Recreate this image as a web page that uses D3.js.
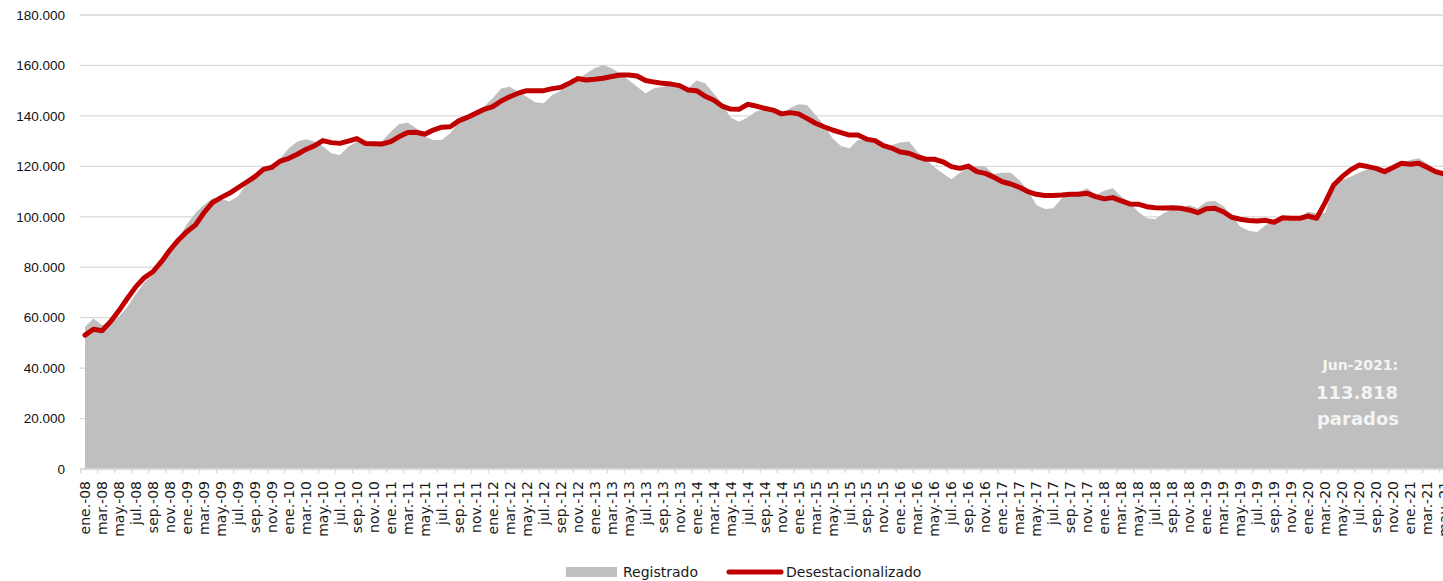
<!DOCTYPE html>
<meta charset="utf-8">
<style>
body { margin: 0; background: #fff; }
svg { display: block; font-family: "DejaVu Sans", sans-serif; }
.grid line { stroke: #d9d9d9; stroke-width: 1.3; }
.yaxis text { font-size: 13.5px; fill: #111; }
.xlab { font-size: 14px; fill: #1a1a1a; }
.legend text { font-size: 14px; fill: #1a1a1a; }
.note { font-weight: bold; fill: #f4f4f4; }
</style>
<svg width="1443" height="581"></svg>
<script src="https://cdn.jsdelivr.net/npm/d3@7"></script>
<script>

// month labels ene.-08 ... jun.-21
var monthNames = ["ene.", "feb.", "mar.", "abr.", "may.", "jun.", "jul.", "ago.", "sep.", "oct.", "nov.", "dic."];
var years = ["08", "09", "10", "11", "12", "13", "14", "15", "16", "17", "18", "19", "20", "21"];
var categories = [];
years.forEach(function(yy) {
  monthNames.forEach(function(m, k) {
    if (yy == "21" && k > 5) return;
    categories.push(m + "-" + yy);
  });
});

// Registrado (parados)
var registrado = [
  56400, 59700, 57100, 58000, 60500, 64300, 69500, 74000, 77000, 81000, 86500, 91500,
  97000, 101500, 104700, 107300, 107000, 106200, 108000, 113000, 116600, 119900, 120500, 123200,
  127200, 129800, 130700, 129800, 128000, 125200, 124500, 127800, 129800, 129500, 129000, 130000,
  133700, 136800, 137300, 135100, 131800, 130400, 130400, 133100, 137700, 140000, 141700, 143700,
  147000, 150900, 151600, 149600, 147600, 145400, 145000, 148300, 150000, 152300, 154200, 156800,
  158900, 160200, 158900, 156800, 154200, 151600, 149000, 151000, 151600, 152300, 152300, 151000,
  154000, 152900, 149000, 145000, 139400, 137700, 139400, 141700, 142500, 141600, 140600, 143000,
  144600, 144300, 140400, 136400, 131100, 128100, 127200, 130400, 130400, 129800, 128100, 128500,
  129400, 129800, 125800, 122800, 119600, 117200, 114900, 117500, 119900, 120100, 119800, 117000,
  117500, 117500, 114500, 110600, 104700, 103100, 103400, 107300, 109000, 110000, 111300, 108600,
  110300, 111300, 108000, 105600, 102000, 99400, 99000, 101400, 103000, 103400, 104700, 103400,
  106000, 106400, 104300, 100700, 96100, 94500, 94000, 96700, 98000, 98700, 99000, 99800,
  102000, 101400, 101500, 112200, 114600, 115900, 117500, 118800, 118800, 118300, 119600, 121200,
  122500, 123200, 121200, 118600, 116800, 113818
];

// Desestacionalizado
var desestacionalizado = [
  53100, 55400, 54800, 58400, 62800, 67700, 72300, 75900, 78200, 82200, 86800, 90800,
  94100, 96700, 101600, 105600, 107600, 109300, 111500, 113700, 115900, 118800, 119600, 122100,
  123200, 124800, 126700, 128100, 130200, 129400, 129100, 130000, 131000, 129100, 129000, 128900,
  129800, 131800, 133400, 133500, 132700, 134400, 135500, 135700, 138000, 139400, 141000, 142600,
  143700, 145900, 147600, 149000, 150000, 150000, 150000, 150800, 151300, 152900, 154800, 154200,
  154500, 154900, 155600, 156200, 156200, 155800, 154000, 153400, 152900, 152600, 152000, 150300,
  150000, 147800, 146300, 143900, 142700, 142600, 144600, 143900, 143000, 142300, 140800, 141300,
  140800, 139000, 137100, 135700, 134400, 133400, 132400, 132400, 130800, 130200, 128200, 127200,
  125700, 125200, 123800, 122800, 122800, 121800, 119900, 119200, 120100, 117900, 117200, 115700,
  113900, 113000, 111700, 110000, 108900, 108400, 108400, 108600, 108900, 108900, 109300, 108000,
  107100, 107600, 106300, 105100, 105000, 104000, 103600, 103500, 103600, 103400, 102700, 101600,
  103200, 103400, 102000, 99800, 99000, 98500, 98300, 98600, 97800, 99600, 99400, 99400,
  100300, 99400, 105600, 112600, 115900, 118600, 120500, 119900, 119200, 117900, 119500, 121200,
  120800, 121200, 119600, 117900, 117000, 116200
];

var yTicks = [0, 20000, 40000, 60000, 80000, 100000, 120000, 140000, 160000, 180000];
var noteLines = ["Jun-2021:", "113.818", "parados"];
var legendItems = ["Registrado", "Desestacionalizado"];

var svg = d3.select("svg"),
    width = +svg.attr("width"),
    height = +svg.attr("height");

var es = d3.formatLocale({decimal: ",", thousands: ".", grouping: [3], currency: ["", " €"]});
var fmt = es.format(",");

var left = 80.75, step = 8.494;
var x = d3.scaleBand()
    .domain(categories)
    .range([left, left + categories.length * step])
    .padding(0);
var cx = function(d) { return x(d) + x.bandwidth() / 2; };

var y = d3.scaleLinear()
    .domain([0, 180000])
    .range([469, 15]);

// gridlines
svg.append("g")
    .attr("class", "grid")
  .selectAll("line")
    .data(yTicks)
  .enter().append("line")
    .attr("x1", 80)
    .attr("x2", width)
    .attr("y1", function(d) { return y(d); })
    .attr("y2", function(d) { return y(d); });

// y axis labels
svg.append("g")
    .attr("class", "yaxis")
    .attr("transform", "translate(80,0)")
    .call(d3.axisLeft(y).tickValues(yTicks).tickSize(0).tickPadding(15).tickFormat(fmt))
  .call(function(g) { g.select(".domain").remove(); });

// area (registrado)
var area = d3.area()
    .x(function(d, i) { return cx(categories[i]); })
    .y0(y(0))
    .y1(function(d) { return y(d); });

svg.append("path")
    .datum(registrado)
    .attr("fill", "#bfbfbf")
    .attr("d", area);

// axis line + ticks every 2 months
var evenCats = categories.filter(function(d, i) { return i % 2 == 0; });
svg.append("line")
    .attr("x1", 80).attr("x2", width)
    .attr("y1", y(0)).attr("y2", y(0))
    .attr("stroke", "#d9d9d9")
    .attr("stroke-width", 1.3);

svg.append("g")
  .selectAll("line")
    .data(evenCats)
  .enter().append("line")
    .attr("x1", function(d) { return x(d); })
    .attr("x2", function(d) { return x(d); })
    .attr("y1", y(0))
    .attr("y2", y(0) + 4)
    .attr("stroke", "#d9d9d9")
    .attr("stroke-width", 1.3);

svg.append("g")
  .selectAll("text")
    .data(evenCats)
  .enter().append("text")
    .attr("class", "xlab")
    .attr("transform", function(d) { return "translate(" + cx(d) + ",481) rotate(-90)"; })
    .attr("dy", "0.36em")
    .attr("text-anchor", "end")
    .text(function(d) { return d; });

// red line (desestacionalizado)
var line = d3.line()
    .x(function(d, i) { return cx(categories[i]); })
    .y(function(d) { return y(d); });

svg.append("path")
    .datum(desestacionalizado)
    .attr("fill", "none")
    .attr("stroke", "#c00000")
    .attr("stroke-width", 5)
    .attr("stroke-linejoin", "round")
    .attr("stroke-linecap", "round")
    .attr("d", line);

// annotation
var note = svg.append("g").attr("text-anchor", "end");
note.append("text").attr("class", "note").attr("x", 1398).attr("y", 370)
    .style("font-size", "14px").text(noteLines[0]);
note.append("text").attr("class", "note").attr("x", 1398).attr("y", 399)
    .style("font-size", "18px").text(noteLines[1]);
note.append("text").attr("class", "note").attr("x", 1399).attr("y", 425)
    .style("font-size", "18px").text(noteLines[2]);

// legend
var lg = svg.append("g").attr("class", "legend");
lg.append("rect")
    .attr("x", 566).attr("y", 567)
    .attr("width", 51).attr("height", 10)
    .attr("fill", "#bfbfbf");
lg.append("text").attr("x", 623).attr("y", 577).text(legendItems[0]);
lg.append("line")
    .attr("x1", 729).attr("x2", 781)
    .attr("y1", 572).attr("y2", 572)
    .attr("stroke", "#c00000")
    .attr("stroke-width", 5)
    .attr("stroke-linecap", "round");
lg.append("text").attr("x", 786).attr("y", 577).text(legendItems[1]);

</script>
